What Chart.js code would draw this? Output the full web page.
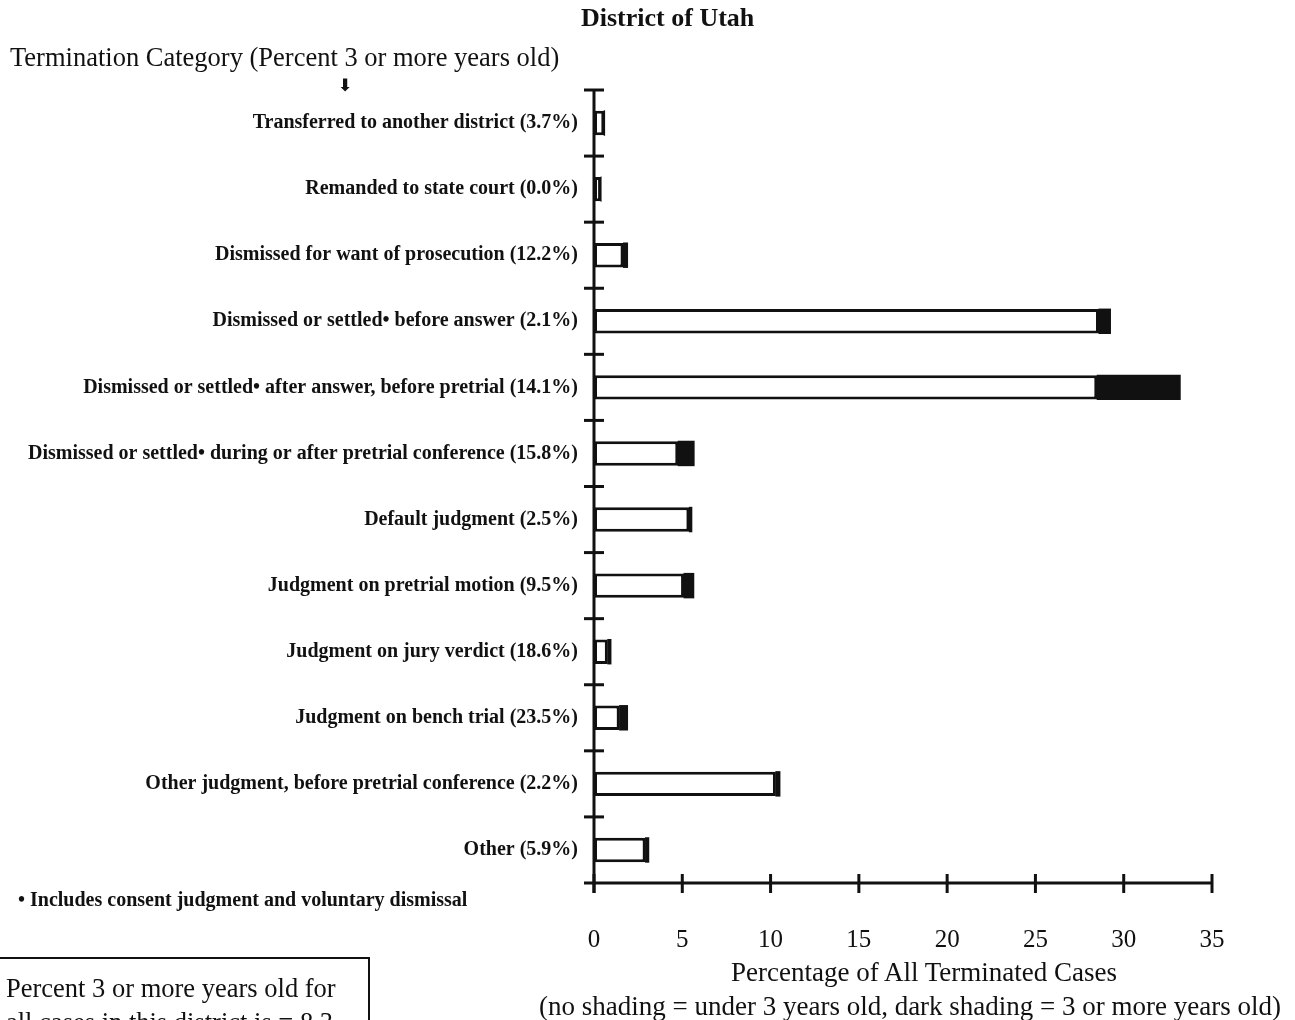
<!DOCTYPE html>
<html>
<head>
<meta charset="utf-8">
<title>District of Utah</title>
<script src="https://cdn.jsdelivr.net/npm/chart.js@4.4.1/dist/chart.umd.min.js"></script>
<style>
  html, body { margin: 0; padding: 0; background: #fff; }
  body { width: 1295px; height: 1020px; position: relative; overflow: hidden; font-family: "Liberation Serif", serif; color: #111; }
  #chart { position: absolute; left: 0; top: 0; }
  .txt { position: absolute; white-space: nowrap; }
  #title { left: 581px; top: 3px; font-size: 26px; font-weight: bold; }
  #catTitle { left: 10px; top: 42px; font-size: 26.5px; }
  #arrow { left: 338px; top: 75px; font-size: 17px; font-family: "DejaVu Sans", sans-serif; font-weight: bold; }
  #note { left: 18px; top: 888px; font-size: 20px; font-weight: bold; }
  .xtitle { position: absolute; width: 1000px; text-align: center; font-size: 27px; line-height: 34px; white-space: nowrap; }
  #box { position: absolute; left: -2px; top: 957px; width: 368px; height: 90px; border: 2px solid #111; }
  #box div { position: absolute; left: 6px; font-size: 26.5px; white-space: nowrap; }
</style>
</head>
<body>
<canvas id="chart" width="1295" height="1020"></canvas>
<div class="txt" id="title">District of Utah</div>
<div class="txt" id="catTitle">Termination Category (Percent 3 or more years old)</div>
<div class="txt" id="arrow">&#x2B07;</div>
<div class="txt" id="note">&bull; Includes consent judgment and voluntary dismissal</div>
<div class="xtitle" style="left: 424px; top: 955px;">Percentage of All Terminated Cases</div>
<div class="xtitle" style="left: 410px; top: 989px;">(no shading = under 3 years old, dark shading = 3 or more years old)</div>
<div id="box">
  <div style="top: 14px;">Percent 3 or more years old for</div>
  <div style="top: 48px;">all cases in this district is = 8.3</div>
</div>
<script>
const categories = [
    'Transferred to another district (3.7%)',
    'Remanded to state court (0.0%)',
    'Dismissed for want of prosecution (12.2%)',
    'Dismissed or settled\u2022 before answer (2.1%)',
    'Dismissed or settled\u2022 after answer, before pretrial (14.1%)',
    'Dismissed or settled\u2022 during or after pretrial conference (15.8%)',
    'Default judgment (2.5%)',
    'Judgment on pretrial motion (9.5%)',
    'Judgment on jury verdict (18.6%)',
    'Judgment on bench trial (23.5%)',
    'Other judgment, before pretrial conference (2.2%)',
    'Other (5.9%)'
];

// percentage of all terminated cases
const under3 = [0.58, 0.4, 1.67, 28.6, 28.5, 4.77, 5.4, 5.1, 0.78, 1.45, 10.3, 2.92];
const over3 = [0.02, 0, 0.23, 0.65, 4.7, 0.9, 0.14, 0.55, 0.18, 0.45, 0.23, 0.18];

const xTicks = [0, 5, 10, 15, 20, 25, 30, 35];

// axis lines with ticks crossing both sides, like the print
const axisPlugin = {
    id: 'axisLines',
    afterDatasetsDraw(chart) {
        const { ctx, chartArea: a } = chart;
        const x = chart.scales.x, y = chart.scales.y;
        const line = (x1, y1, x2, y2) => {
            ctx.beginPath();
            ctx.moveTo(x1, y1);
            ctx.lineTo(x2, y2);
            ctx.stroke();
        };
        ctx.save();
        ctx.strokeStyle = '#111';
        ctx.lineWidth = 3;
        line(a.left, a.top, a.left, a.bottom + 10);
        line(a.left - 10, a.bottom, a.right, a.bottom);
        x.ticks.forEach(t => {
            const px = x.getPixelForValue(t.value);
            line(px, a.bottom - 9, px, a.bottom + 10);
        });
        const half = (y.getPixelForValue(1) - y.getPixelForValue(0)) / 2;
        categories.forEach((c, i) => {
            const py = y.getPixelForValue(i) - half;
            line(a.left - 10, py, a.left + 10, py);
        });
        ctx.restore();
    }
};

new Chart(document.getElementById('chart'), {
    type: 'bar',
    data: {
        labels: categories,
        datasets: [{
            label: 'Under 3 years old',
            data: under3,
            backgroundColor: '#fff',
            borderColor: '#111',
            borderWidth: 3,
            borderSkipped: false
        }, {
            label: '3 or more years old',
            data: over3,
            backgroundColor: '#111',
            borderColor: '#111',
            borderWidth: 0,
            borderSkipped: false,
            inflateAmount: 0.5
        }]
    },
    options: {
        indexAxis: 'y',
        responsive: false,
        animation: false,
        layout: { padding: { left: 0, right: 83, top: 90, bottom: 0 } },
        datasets: { bar: { barPercentage: 0.37, categoryPercentage: 1 } },
        plugins: { legend: { display: false }, tooltip: { enabled: false } },
        scales: {
            y: {
                stacked: true,
                offset: true,
                grid: { display: false, drawTicks: false },
                border: { display: false },
                ticks: {
                    autoSkip: false,
                    padding: 16,
                    color: '#111',
                    font: { family: 'Liberation Serif', size: 20, weight: 'bold' }
                },
                afterFit(scale) { scale.width = 594; }
            },
            x: {
                stacked: true,
                min: 0,
                max: 35,
                grid: { display: false, drawTicks: false },
                border: { display: false },
                afterBuildTicks(scale) { scale.ticks = xTicks.map(v => ({ value: v })); },
                ticks: {
                    padding: 42,
                    color: '#111',
                    font: { family: 'Liberation Serif', size: 25 }
                },
                afterFit(scale) { scale.height = 137; }
            }
        }
    },
    plugins: [axisPlugin]
});
</script>
</body>
</html>
